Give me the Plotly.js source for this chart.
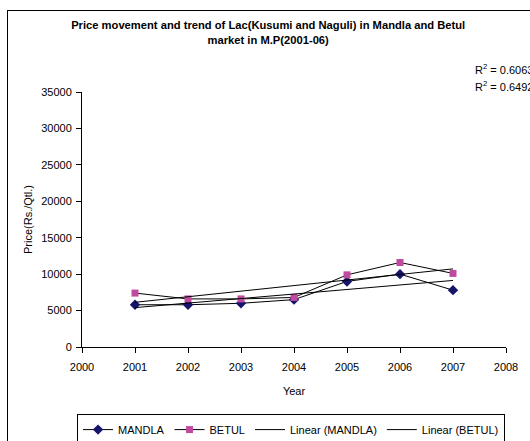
<!DOCTYPE html>
<html>
<head>
<meta charset="utf-8">
<script src="https://cdn.plot.ly/plotly-3.0.1.min.js"></script>
<style>
html,body{margin:0;padding:0;background:#fff;overflow:hidden;}
#chart{width:530px;height:441px;position:absolute;left:0;top:0;}
#frame{position:absolute;left:7px;top:10px;width:540px;height:450px;border-left:1px solid #000;border-top:1px solid #000;pointer-events:none;}
</style>
</head>
<body>
<div id="chart"></div>
<div id="frame"></div>
<script>
var years = [2001, 2002, 2003, 2004, 2005, 2006, 2007];
var mandla = [5800, 5800, 6000, 6500, 9000, 10000, 7800];
var betul = [7400, 6600, 6600, 6800, 9900, 11600, 10100];
var r2Labels = ['R<sup>2</sup> = 0.6063', 'R<sup>2</sup> = 0.6492'];

function linearFit(xs, ys) {
  var n = xs.length, sx = 0, sy = 0, sxx = 0, sxy = 0;
  for (var i = 0; i < n; i++) { sx += xs[i]; sy += ys[i]; sxx += xs[i]*xs[i]; sxy += xs[i]*ys[i]; }
  var b = (n*sxy - sx*sy) / (n*sxx - sx*sx);
  var a = (sy - b*sx) / n;
  return xs.map(function(x){ return a + b*x; });
}

var font = {family: 'Liberation Sans, Arial, sans-serif', size: 11, color: '#000'};

var traces = [
  {x: years, y: mandla, name: 'MANDLA', type: 'scatter', mode: 'lines+markers',
   line: {color: '#000', width: 1}, marker: {symbol: 'diamond', size: 8, color: '#15156B'}},
  {x: years, y: betul, name: 'BETUL', type: 'scatter', mode: 'lines+markers',
   line: {color: '#000', width: 1}, marker: {symbol: 'square', size: 7, color: '#C04AA0'}},
  {x: years, y: linearFit(years, mandla), name: 'Linear (MANDLA)', type: 'scatter', mode: 'lines',
   line: {color: '#000', width: 1}},
  {x: years, y: linearFit(years, betul), name: 'Linear (BETUL)', type: 'scatter', mode: 'lines',
   line: {color: '#000', width: 1}}
];

var layout = {
  width: 530, height: 441,
  margin: {l: 82, r: 24, t: 92, b: 94},
  paper_bgcolor: '#fff', plot_bgcolor: '#fff',
  font: font,
  showlegend: true,
  title: {text: '<b>Price movement and trend of Lac(Kusumi and Naguli) in Mandla and Betul<br>market in M.P(2001-06)</b>',
          font: {family: 'Liberation Sans, Arial, sans-serif', size: 11.2, color: '#000'},
          x: 0.506, xref: 'container', xanchor: 'center', y: 0.934, yref: 'container', yanchor: 'top'},
  xaxis: {range: [2000, 2008], dtick: 1, tick0: 2000, showgrid: false, zeroline: false, automargin: false,
          showline: true, linecolor: '#000', linewidth: 1, ticks: 'outside', ticklen: 5, tickcolor: '#000',
          ticklabelstandoff: 5,
          tickformat: 'd', tickfont: font, title: {text: 'Year', font: font, standoff: 15}},
  yaxis: {range: [0, 35000], dtick: 5000, showgrid: false, zeroline: false, automargin: false,
          showline: true, linecolor: '#000', linewidth: 1, ticks: 'outside', ticklen: 5, tickcolor: '#000',
          ticklabelstandoff: 2,
          tickformat: 'd', tickfont: font, title: {text: 'Price(Rs./Qtl.)', font: font, standoff: 6}},
  legend: {orientation: 'h', xref: 'paper', x: 0.493, xanchor: 'center', yref: 'container', y: 0.061, yanchor: 'top',
           bordercolor: '#000', borderwidth: 1, bgcolor: '#fff', font: font,
           itemwidth: 30, tracegroupgap: 0},
  annotations: [
    {text: r2Labels[0], xref: 'paper', yref: 'paper', x: 0.922, y: 1.09, xanchor: 'left', yanchor: 'middle', showarrow: false, font: font},
    {text: r2Labels[1], xref: 'paper', yref: 'paper', x: 0.922, y: 1.025, xanchor: 'left', yanchor: 'middle', showarrow: false, font: font}
  ]
};

Plotly.newPlot('chart', traces, layout, {displayModeBar: false, staticPlot: true});
</script>
</body>
</html>
